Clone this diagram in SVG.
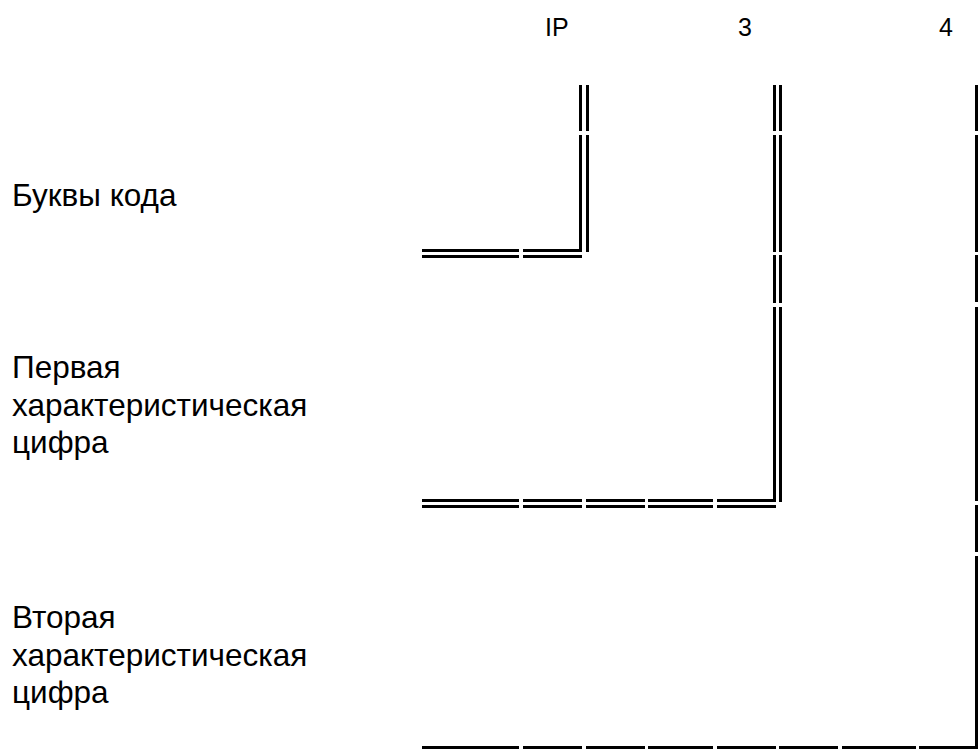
<svg xmlns="http://www.w3.org/2000/svg" width="980" height="749" viewBox="0 0 980 749">
<style>
.t{font-family:"Liberation Sans",Arial,sans-serif;fill:#000}
.h{font-size:25px}
.l{font-size:31.5px}
.b{fill:#000}
</style>
<rect width="980" height="749" fill="#fff"/>
<g id="headers">
<text class="t h" x="545" y="36">IP</text>
<text class="t h" x="738" y="36">3</text>
<text class="t h" x="939" y="36">4</text>
</g>
<g id="label-letters">
<text class="t l" x="12" y="206">Буквы кода</text>
</g>
<g id="label-first">
<text class="t l" x="12" y="378">Первая</text>
<text class="t l" x="12" y="416">характеристическая</text>
<text class="t l" x="12" y="453">цифра</text>
</g>
<g id="label-second">
<text class="t l" x="12" y="628">Вторая</text>
<text class="t l" x="12" y="666">характеристическая</text>
<text class="t l" x="12" y="703">цифра</text>
</g>
<g id="connectors" class="b">
<!-- IP corner -->
<rect x="579" y="85" width="3" height="46"/>
<rect x="586" y="85" width="3" height="46"/>
<rect x="579" y="135" width="3" height="117"/>
<rect x="586" y="135" width="3" height="117"/>
<rect x="422" y="249" width="97" height="3"/>
<rect x="523" y="249" width="59" height="3"/>
<rect x="422" y="255" width="97" height="3"/>
<rect x="523" y="255" width="59" height="3"/>
<!-- 3 corner -->
<rect x="773" y="85" width="3" height="46"/>
<rect x="779" y="85" width="3" height="46"/>
<rect x="773" y="135" width="3" height="117"/>
<rect x="779" y="135" width="3" height="117"/>
<rect x="773" y="255" width="3" height="48"/>
<rect x="779" y="255" width="3" height="48"/>
<rect x="773" y="307" width="3" height="195"/>
<rect x="779" y="307" width="3" height="195"/>
<rect x="422" y="499" width="97" height="3"/>
<rect x="523" y="499" width="59" height="3"/>
<rect x="586" y="499" width="59" height="3"/>
<rect x="648" y="499" width="65" height="3"/>
<rect x="717" y="499" width="59" height="3"/>
<rect x="422" y="505" width="97" height="3"/>
<rect x="523" y="505" width="59" height="3"/>
<rect x="586" y="505" width="59" height="3"/>
<rect x="648" y="505" width="65" height="3"/>
<rect x="717" y="505" width="59" height="3"/>
<!-- 4 corner -->
<rect x="975" y="85" width="3" height="46"/>
<rect x="975" y="135" width="3" height="117"/>
<rect x="975" y="255" width="3" height="47"/>
<rect x="975" y="307" width="3" height="194"/>
<rect x="975" y="505" width="3" height="47"/>
<rect x="975" y="556" width="3" height="193"/>
<rect x="422" y="746" width="97" height="3"/>
<rect x="523" y="746" width="59" height="3"/>
<rect x="586" y="746" width="59" height="3"/>
<rect x="648" y="746" width="65" height="3"/>
<rect x="717" y="746" width="59" height="3"/>
<rect x="779" y="746" width="59" height="3"/>
<rect x="842" y="746" width="74" height="3"/>
<rect x="919" y="746" width="59" height="3"/>
</g>
</svg>
